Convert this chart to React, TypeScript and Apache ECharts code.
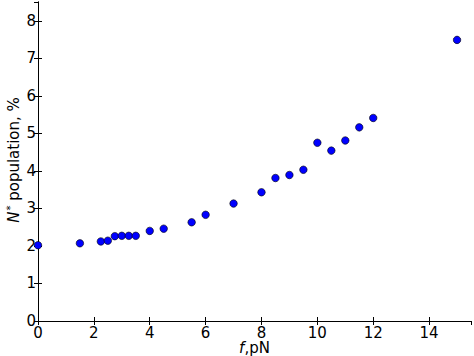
import React, { useEffect, useRef } from "react";
import * as echarts from "echarts";

const forceValues = [0, 1.5, 2.25, 2.5, 2.75, 3.0, 3.25, 3.5, 4.0, 4.5, 5.5, 6.0, 7.0, 8.0, 8.5, 9.0, 9.5, 10.0, 10.5, 11.0, 11.5, 12.0, 15.0];
const populationValues = [2.02, 2.07, 2.12, 2.14, 2.26, 2.27, 2.27, 2.27, 2.4, 2.46, 2.63, 2.83, 3.13, 3.43, 3.81, 3.89, 4.03, 4.75, 4.54, 4.81, 5.16, 5.41, 7.49];

const FONT = "DejaVu Sans";
const FS = 15;

export default function App() {
  const ref = useRef<HTMLDivElement>(null);
  useEffect(() => {
    const chart = echarts.init(ref.current!, null, { renderer: "svg" });
    const data = forceValues.map((f, i) => [f, populationValues[i]]);
    const axisLine = { show: true, lineStyle: { color: "#000", width: 1 } };
    const tick = { show: true, inside: true, length: 4, lineStyle: { color: "#000", width: 1 } };
    const label = { color: "#000", fontFamily: FONT, fontSize: FS, lineHeight: 15 };
    chart.setOption({
      animation: false,
      backgroundColor: "#fff",
      grid: { left: 38, right: 3, top: 2, bottom: 35, containLabel: false },
      xAxis: [
        {
          type: "value", min: 0, max: 15.5, interval: 2, position: "bottom",
          axisLine, axisTick: tick, splitLine: { show: false },
          axisLabel: { ...label, margin: 4, showMaxLabel: false },
        },
        {
          type: "value", min: 0, max: 15.5, interval: 2, position: "top",
          axisLine, axisTick: tick, splitLine: { show: false },
          axisLabel: { show: false },
        },
      ],
      yAxis: [
        {
          type: "value", min: 0, max: 8.5, interval: 1, position: "left",
          axisLine, axisTick: tick, splitLine: { show: false },
          axisLabel: { ...label, margin: 2, showMaxLabel: false },
        },
        {
          type: "value", min: 0, max: 8.5, interval: 1, position: "right",
          axisLine, axisTick: tick, splitLine: { show: false },
          axisLabel: { show: false },
        },
      ],
      graphic: [
        {
          type: "text",
          x: 14, y: 160, rotation: Math.PI / 2,
          style: {
            text: "{i|N}{s|*} population, %",
            fontFamily: FONT, fontSize: FS, fill: "#000",
            align: "center", verticalAlign: "middle",
            rich: {
              i: { fontStyle: "italic", fontFamily: FONT, fontSize: FS },
              s: { fontFamily: FONT, fontSize: 10, verticalAlign: "top", padding: [0, 0, 7, 1] },
            },
          },
        },
        {
          type: "text",
          x: 254.5, y: 348,
          style: {
            text: "{i|f},pN",
            fontFamily: FONT, fontSize: FS, fill: "#000",
            align: "center", verticalAlign: "middle",
            rich: { i: { fontStyle: "italic", fontFamily: FONT, fontSize: FS } },
          },
        },
      ],
      series: [
        {
          type: "scatter",
          data,
          symbol: "circle",
          symbolSize: 7.5,
          clip: true,
          itemStyle: { color: "#0000ff", borderColor: "#000", borderWidth: 0.6, opacity: 1 },
        },
      ],
    });
    return () => chart.dispose();
  }, []);
  return <div ref={ref} style={{ position: "fixed", left: 0, top: 0, width: 474, height: 356 }} />;
}
